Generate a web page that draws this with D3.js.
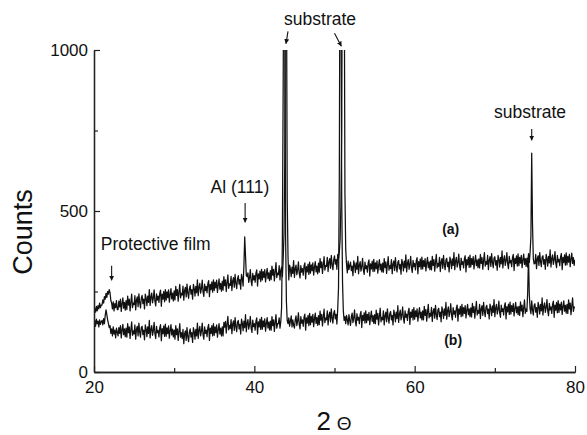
<!DOCTYPE html>
<html>
<head>
<meta charset="utf-8">
<script src="https://cdn.jsdelivr.net/npm/d3@7"></script>
<style>
  html, body { margin: 0; padding: 0; background: #fff; }
  svg { display: block; font-family: "Liberation Sans", Arial, sans-serif; }
</style>
</head>
<body>
<svg id="chart" width="587" height="435"></svg>
<script>
// ---- data ----
const angleStart = 20;      // first 2θ value of the scans
const angleStep = 0.1;      // sampling step of the scans (degrees)

// pattern (a): one value per 0.1° from 20.0° to 80.0°
const countsA = [
  180,198,186,204,190,206,196,214,200,208,
  208,224,214,234,226,244,232,250,242,256,
  246,222,214,196,218,190,212,200,222,194,
  194,220,202,226,188,212,230,198,216,192,
  222,194,236,208,226,190,218,242,200,214,
  209,237,193,223,233,203,243,215,199,229,
  238,212,226,196,242,230,206,236,216,256,
  207,233,245,215,229,255,219,205,243,223,
  236,216,244,254,204,242,226,250,218,256,
  223,249,231,255,217,241,259,227,245,221,
  252,224,266,238,256,220,248,272,230,244,
  239,267,223,253,263,233,273,245,229,259,
  268,242,256,226,272,260,236,266,246,286,
  237,263,275,245,259,285,249,235,273,253,
  266,246,274,284,234,272,256,280,248,286,
  253,279,261,285,247,271,289,257,275,251,
  282,254,296,268,286,250,278,302,260,274,
  269,297,253,283,293,263,303,275,259,289,
  299,273,287,257,303,291,267,330,420,360,
  300,296,308,278,292,318,282,268,306,286,
  299,279,307,317,267,305,289,313,281,319,
  286,312,294,318,280,304,322,290,308,284,
  315,287,329,301,319,283,311,340,293,307,
  302,330,286,316,326,296,350,430,660,1500,
  1300,540,360,286,332,320,296,326,306,346,
  294,320,332,302,316,342,306,292,330,310,
  321,301,329,339,289,327,311,335,303,341,
  307,333,315,339,301,325,343,311,329,305,
  338,310,352,324,342,306,334,358,316,330,
  328,356,312,342,352,322,362,334,318,348,
  361,335,349,319,365,353,372,410,520,760,
  1500,1700,1400,560,380,335,308,344,318,330,
  341,315,329,299,345,333,309,339,319,359,
  305,331,343,313,327,353,317,303,341,321,
  330,310,338,348,298,336,320,344,312,350,
  313,339,321,345,307,331,349,317,335,311,
  338,310,352,324,342,306,334,358,316,330,
  321,349,305,335,345,315,355,327,311,341,
  346,320,334,304,350,338,314,344,324,364,
  311,337,349,319,333,359,323,309,347,327,
  337,317,345,355,305,343,327,351,319,357,
  320,346,328,352,314,338,356,324,342,318,
  345,317,359,331,349,313,341,365,323,337,
  328,356,312,342,352,322,362,334,318,348,
  353,327,341,311,357,345,321,351,331,371,
  318,344,356,326,340,366,330,316,354,334,
  343,323,351,361,311,349,333,357,325,363,
  326,352,334,358,320,344,362,330,348,324,
  351,323,365,337,355,319,347,371,329,343,
  334,362,318,348,358,328,368,340,324,354,
  358,332,346,316,362,350,326,356,336,376,
  323,349,361,331,345,371,335,321,359,339,
  347,327,355,365,315,353,337,361,329,367,
  330,356,338,362,324,348,366,334,352,328,
  354,326,368,340,372,420,680,460,352,336,
  337,365,321,351,361,331,371,343,327,357,
  361,335,349,319,365,353,329,359,339,379,
  326,352,364,334,348,374,338,324,362,342,
  350,330,358,368,318,356,340,364,332,370,
  333,359,341,365,327,351,369,337,355,331,
  348
];

// pattern (b): one value per 0.1° from 20.0° to 80.0°
const countsB = [
  146,160,142,164,150,158,140,162,148,156,
  160,146,166,150,176,193,178,162,150,138,
  144,120,134,112,140,118,130,106,136,124,
  112,138,120,144,106,130,148,116,134,110,
  136,108,150,122,140,104,132,156,114,128,
  118,146,102,132,142,112,152,124,108,138,
  142,116,130,100,146,134,110,140,120,160,
  106,132,144,114,128,154,118,104,142,122,
  129,109,137,147,97,135,119,143,111,149,
  111,137,119,143,105,129,147,115,133,109,
  130,102,144,116,134,98,126,150,108,122,
  104,132,88,118,128,98,138,110,94,124,
  134,108,122,92,138,126,102,132,112,152,
  104,130,142,112,126,152,116,102,140,120,
  130,110,138,148,98,136,120,144,112,150,
  114,140,122,146,108,132,150,118,136,112,
  140,112,154,139,157,121,149,173,131,145,
  135,163,119,149,159,129,169,141,125,155,
  160,134,148,118,164,152,128,158,138,178,
  125,151,163,133,147,173,137,123,161,141,
  150,130,158,168,118,156,140,164,132,170,
  133,159,141,165,127,151,169,137,155,131,
  158,130,172,144,162,126,154,178,136,150,
  150,168,136,156,200,420,900,1500,1200,420,
  220,160,150,168,142,158,174,140,162,146,
  136,162,174,144,158,184,148,134,172,152,
  162,142,170,180,130,168,152,176,144,182,
  147,173,155,179,141,165,183,151,169,145,
  175,147,189,161,179,143,171,195,153,167,
  162,190,146,176,186,156,196,168,152,182,
  191,165,179,149,195,260,600,1500,1300,540,
  280,190,160,172,150,176,162,146,178,160,
  145,171,183,153,167,193,157,143,181,161,
  170,150,178,188,138,176,160,184,152,190,
  153,179,161,185,147,171,189,157,175,151,
  178,150,192,164,182,146,174,198,156,170,
  162,190,146,176,186,156,196,168,152,182,
  188,162,176,146,192,180,156,186,166,206,
  154,180,192,162,176,202,166,152,190,170,
  180,160,188,198,148,186,170,194,162,200,
  164,190,172,196,158,182,200,168,186,162,
  190,162,204,176,194,158,186,210,168,182,
  173,201,157,187,197,167,207,179,163,193,
  198,172,186,156,202,190,166,196,176,216,
  164,190,202,172,186,212,176,162,200,180,
  190,170,198,208,158,196,180,204,172,210,
  174,200,182,206,168,192,210,178,196,172,
  199,171,213,185,203,167,195,219,177,191,
  182,210,166,196,206,176,216,188,172,202,
  207,181,195,165,211,199,175,205,185,225,
  172,198,210,180,194,220,184,170,208,188,
  197,177,205,215,165,203,187,211,179,217,
  180,206,188,212,174,198,216,184,202,178,
  204,176,218,190,208,172,200,224,182,196,
  188,250,360,240,196,181,221,193,177,207,
  212,186,200,170,216,204,180,210,190,230,
  177,203,215,185,199,225,189,175,213,193,
  202,182,210,220,170,208,192,216,184,222,
  185,211,193,217,179,203,221,189,207,183,
  210,182,224,196,214,178,206,230,188,202,
  200
];

const xMajorTicks = [20, 40, 60, 80];
const xMinorTicks = [30, 50, 70];
const yMajorTicks = [0, 500, 1000];
const yMinorTicks = [250, 750];

// annotation labels, anchored at (2θ, counts) = text centre / baseline
const annotationLabels = ["substrate", "substrate", "Al (111)", "Protective film"];
const annotationAt = [[48.2, 1077], [74.4, 789], [38.2, 556], [27.7, 379]];
// arrows: [from 2θ, from counts, to 2θ, to counts]
const arrowSegments = [
  [44.2, 1058, 43.95, 1020],
  [50.0, 1052, 50.85, 1012],
  [74.6, 755, 74.6, 720],
  [38.85, 525, 38.85, 465],
  [22.2, 330, 22.2, 285]
];
const seriesLabels = ["(a)", "(b)"];
const seriesLabelAt = [[64.5, 430], [64.8, 85]];

// ---- drawing ----
const svg = d3.select("#chart");
const x = d3.scaleLinear().domain([20, 80]).range([94, 575]);
const y = d3.scaleLinear().domain([0, 1000]).range([372, 50]);

const defs = svg.append("defs");
defs.append("clipPath").attr("id", "plotClip")
  .append("rect")
  .attr("x", x(20)).attr("y", y(1000))
  .attr("width", x(80) - x(20)).attr("height", y(0) - y(1000));

const line = d3.line()
  .x((d, i) => x(angleStart + i * angleStep))
  .y(d => y(d));

const plot = svg.append("g").attr("clip-path", "url(#plotClip)");
[countsA, countsB].forEach(series => {
  plot.append("path")
    .datum(series)
    .attr("d", line)
    .attr("fill", "none")
    .attr("stroke", "#111")
    .attr("stroke-width", 1.25)
    .attr("stroke-linejoin", "round");
});

// axes
const axisColor = "#222";
const xAxis = svg.append("g").attr("transform", `translate(0,${y(0)})`)
  .call(d3.axisBottom(x).tickValues(xMajorTicks).tickSizeInner(-6).tickSizeOuter(0).tickPadding(9).tickFormat(d3.format("d")));
const xAxisMinor = svg.append("g").attr("transform", `translate(0,${y(0)})`)
  .call(d3.axisBottom(x).tickValues(xMinorTicks).tickSizeInner(-4).tickSizeOuter(0).tickFormat(""));
const yAxis = svg.append("g").attr("transform", `translate(${x(20)},0)`)
  .call(d3.axisLeft(y).tickValues(yMajorTicks).tickSizeInner(-6).tickSizeOuter(0).tickPadding(6).tickFormat(d3.format("d")));
const yAxisMinor = svg.append("g").attr("transform", `translate(${x(20)},0)`)
  .call(d3.axisLeft(y).tickValues(yMinorTicks).tickSizeInner(-4).tickSizeOuter(0).tickFormat(""));

[xAxis, xAxisMinor, yAxis, yAxisMinor].forEach(g => {
  g.selectAll("path.domain").attr("stroke", axisColor).attr("stroke-width", 1.3);
  g.selectAll(".tick line").attr("stroke", axisColor).attr("stroke-width", 1.2);
  g.selectAll(".tick text").attr("fill", "#111").style("font-size", "17px")
    .style("font-family", "'Liberation Sans', Arial, sans-serif");
});

// axis titles
svg.append("text")
  .attr("transform", `translate(32,232) rotate(-90)`)
  .attr("text-anchor", "middle")
  .style("font-size", "27px")
  .attr("fill", "#111")
  .text("Counts");

const xTitle = svg.append("text")
  .attr("x", 334).attr("y", 430)
  .attr("text-anchor", "middle")
  .attr("fill", "#111");
xTitle.append("tspan").style("font-size", "26px").text("2");
xTitle.append("tspan").attr("dx", 6).style("font-size", "19px").text("Θ");

// annotations
annotationLabels.forEach((t, i) => {
  svg.append("text")
    .attr("x", x(annotationAt[i][0])).attr("y", y(annotationAt[i][1]))
    .attr("text-anchor", "middle")
    .style("font-size", "17.5px")
    .attr("fill", "#111")
    .text(t);
});

seriesLabels.forEach((t, i) => {
  svg.append("text")
    .attr("x", x(seriesLabelAt[i][0])).attr("y", y(seriesLabelAt[i][1]))
    .attr("text-anchor", "middle")
    .style("font-size", "14px")
    .style("font-weight", "bold")
    .attr("fill", "#111")
    .text(t);
});

// arrows
defs.append("marker")
  .attr("id", "head")
  .attr("viewBox", "0 0 10 10")
  .attr("refX", 9).attr("refY", 5)
  .attr("markerWidth", 5).attr("markerHeight", 5.5)
  .attr("markerUnits", "userSpaceOnUse")
  .attr("orient", "auto")
  .append("path").attr("d", "M0,0 L10,5 L0,10 Z").attr("fill", "#111");

arrowSegments.forEach(a => {
  svg.append("line")
    .attr("x1", x(a[0])).attr("y1", y(a[1]))
    .attr("x2", x(a[2])).attr("y2", y(a[3]))
    .attr("stroke", "#111").attr("stroke-width", 1.1)
    .attr("marker-end", "url(#head)");
});
</script>
</body>
</html>
